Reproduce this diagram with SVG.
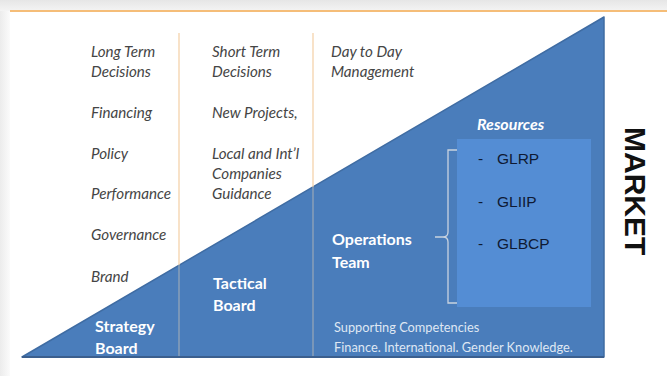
<svg xmlns="http://www.w3.org/2000/svg" width="667" height="376" viewBox="0 0 667 376">
<defs>
<linearGradient id="topg" x1="0" y1="0" x2="0" y2="1"><stop offset="0" stop-color="#e6e6e6"/><stop offset="1" stop-color="#f4f4f4"/></linearGradient>
<linearGradient id="leftg" x1="0" y1="0" x2="1" y2="0"><stop offset="0" stop-color="#ececec"/><stop offset="1" stop-color="#fbfbfb"/></linearGradient>
</defs>
<style>
.it{font-family:Lato,"Open Sans",sans-serif;font-style:italic;font-size:15.2px;fill:#454545}
.wb{font-family:Lato,"Open Sans",sans-serif;font-weight:bold;font-size:16px;fill:#ffffff}
.sm{font-family:Lato,"Open Sans",sans-serif;font-size:12.8px;fill:#dfe7f3}
.gl{font-family:"Liberation Sans",Arial,sans-serif;font-size:15.5px;fill:#0f1a33}
.vo{stroke:#f3cfa4;stroke-width:1.2}
.vg{stroke:#9aa8b8;stroke-width:1.2}
</style>
<rect width="667" height="376" fill="#ffffff"/>
<rect x="0" y="0" width="667" height="11" fill="url(#topg)"/>
<rect x="0" y="11" width="10" height="365" fill="url(#leftg)"/>
<line x1="10" y1="11" x2="667" y2="11" stroke="#f5bd78" stroke-width="2"/>

<g id="triangle">
<polygon points="22,357 604,17 604,357" fill="#4a7dbb" stroke="#3f6ca3" stroke-width="1.5" stroke-linejoin="round"/>
<line x1="22" y1="357" x2="604" y2="357" stroke="#3b5f8e" stroke-width="2"/>
</g>

<g id="connectors">
<line class="vo" x1="179" y1="33" x2="179" y2="265"/>
<line class="vo" x1="313" y1="33" x2="313" y2="187"/>
<line class="vg" x1="179" y1="265" x2="179" y2="356"/>
<line class="vg" x1="313" y1="187" x2="313" y2="356"/>
<path d="M457,150 H448 V232 Q448,237 443,237 H435 M443,237 Q448,237 448,242 V303 H457" fill="none" stroke="#c9d3e0" stroke-width="1.3"/>
</g>

<g id="strategy">
<text class="it" x="91" y="57">Long Term</text>
<text class="it" x="91" y="77">Decisions</text>
<text class="it" x="91" y="118">Financing</text>
<text class="it" x="91" y="159">Policy</text>
<text class="it" x="91" y="199">Performance</text>
<text class="it" x="91" y="240">Governance</text>
<text class="it" x="91" y="282">Brand</text>
<text class="wb" x="95" y="332">Strategy</text>
<text class="wb" x="95" y="354">Board</text>
</g>

<g id="tactical">
<text class="it" x="212" y="57">Short Term</text>
<text class="it" x="212" y="77">Decisions</text>
<text class="it" x="212" y="118">New Projects,</text>
<text class="it" x="212" y="159">Local and Int’l</text>
<text class="it" x="212" y="179">Companies</text>
<text class="it" x="212" y="199">Guidance</text>
<text class="wb" x="213" y="289">Tactical</text>
<text class="wb" x="213" y="311">Board</text>
</g>

<g id="operations">
<text class="it" x="331" y="57">Day to Day</text>
<text class="it" x="331" y="77">Management</text>
<text class="wb" x="332" y="245">Operations</text>
<text class="wb" x="332" y="268">Team</text>
<text class="sm" x="334" y="332">Supporting Competencies</text>
<text class="sm" x="334" y="352">Finance. International. Gender Knowledge.</text>
</g>

<g id="resources">
<text class="wb" x="477" y="130" font-style="italic" font-size="15.5">Resources</text>
<rect x="457" y="139" width="134" height="168" fill="#548dd4"/>
<text class="gl" x="478" y="164">-</text>
<text class="gl" x="497" y="164">GLRP</text>
<text class="gl" x="478" y="207">-</text>
<text class="gl" x="497" y="207">GLIIP</text>
<text class="gl" x="478" y="249">-</text>
<text class="gl" x="497" y="249">GLBCP</text>
</g>

<g id="market">
<text transform="translate(625,127) rotate(90)" font-family="'Liberation Sans',Arial,sans-serif" font-weight="bold" font-size="30" fill="#111111">MARKET</text>
</g>
</svg>
